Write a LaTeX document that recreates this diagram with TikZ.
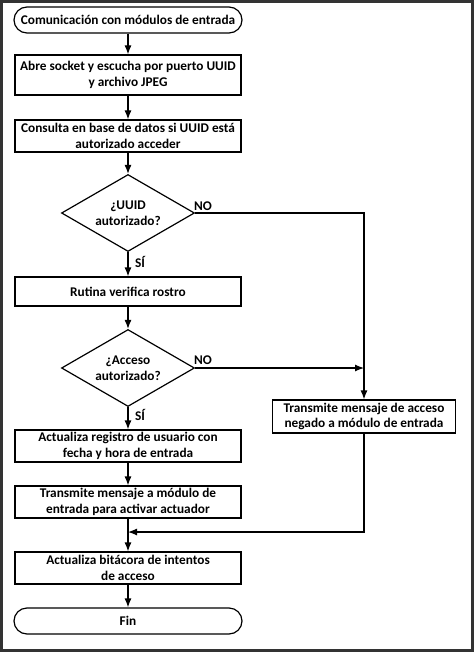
\documentclass[tikz,border=0pt]{standalone}
\usepackage{fontspec}
\setmainfont{Carlito}
\usetikzlibrary{shapes,arrows.meta}

\tikzset{
  proc/.style={draw, line width=1.2pt, minimum width=226pt, minimum height=32pt, align=center, inner sep=0pt, font=\bfseries\fontsize{13.3}{15.8}\selectfont},
  term/.style={proc, rounded corners=13pt, minimum height=26pt, minimum width=228pt},
  dec/.style={proc, diamond, aspect=1.7, minimum width=133pt, minimum height=77pt},
  lbl/.style={font=\bfseries\fontsize{13.3}{15.8}\selectfont},
  flow/.style={line width=1.2pt, -{Latex[length=9pt,width=7pt]}},
}

\begin{document}
\begin{tikzpicture}[x=1pt,y=-1pt]
\useasboundingbox (0,0) rectangle (474,652);
\draw[line width=3pt, black!80] (1.5,1.5) rectangle (472.5,650.5);
% left column
\node[term] (start) at (128,20) {Comunicación con módulos de entrada};
\node[proc, minimum height=40pt] (sock) at (128,75) {Abre socket y escucha por puerto UUID\\y archivo JPEG};
\node[proc] (cons) at (128,136) {Consulta en base de datos si UUID está\\autorizado acceder};
\node[dec] (uuid) at (128,213) {¿UUID\\autorizado?};
\node[proc, minimum height=29pt] (rost) at (128,291.5) {Rutina verifica rostro};
\node[dec] (acc) at (128,368) {¿Acceso\\autorizado?};
\node[proc] (reg) at (128,446) {Actualiza registro de usuario con\\fecha y hora de entrada};
\node[proc] (act) at (128,502) {Transmite mensaje a módulo de\\entrada para activar actuador};
\node[proc] (bit) at (128,568) {Actualiza bitácora de intentos\\de acceso};
\node[term] (fin) at (128,621) {Fin};
% right branch
\node[proc, minimum width=183pt, minimum height=33pt] (neg) at (364,416.5) {Transmite mensaje de acceso\\negado a módulo de entrada};
\coordinate (mrg) at (128,532);

\draw[flow] (start) -- (sock);
\draw[flow] (sock) -- (cons);
\draw[flow] (cons) -- (uuid);
\draw[flow] (uuid) -- (rost);
\draw[flow] (rost) -- (acc);
\draw[flow] (acc) -- (reg);
\draw[flow] (reg) -- (act);
\draw[flow] (act) -- (bit);
\draw[flow] (bit) -- (fin);
\draw[flow] (uuid.east) -| (neg);
\draw[flow] (acc.east) -- (acc.east -| neg);
\draw[flow] (neg) |- (mrg);

\node[lbl] (no1) at (203,206) {NO};
\node[lbl] (si1) at (140,262) {SÍ};
\node[lbl] (no2) at (203,360) {NO};
\node[lbl] (si2) at (140,415) {SÍ};
\end{tikzpicture}
\end{document}
